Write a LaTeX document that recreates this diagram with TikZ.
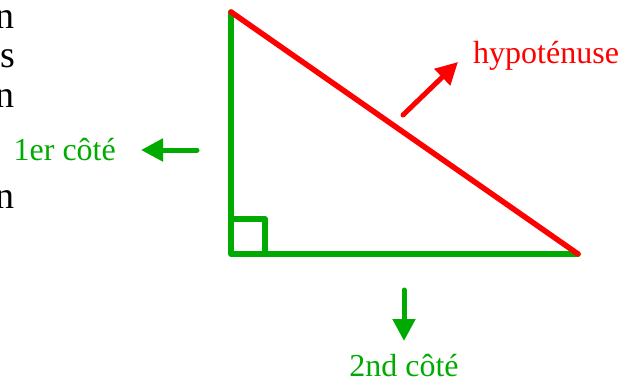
\documentclass[tikz,border=0pt]{standalone}
\usepackage{fontspec}
\setmainfont{Liberation Serif}
\usetikzlibrary{positioning, calc, arrows.meta}
\definecolor{SideColor}{RGB}{0,170,0}
\definecolor{HypColor}{RGB}{255,0,0}
\tikzset{
    side/.style={draw=SideColor, line width=5.5pt, line cap=round, line join=round},
    hyp/.style={draw=HypColor, line width=5.5pt, line cap=round},
    pointer/.style={line width=5pt, line cap=round, -{Triangle[length=22pt, width=22pt]}},
    label/.style={inner sep=0pt, font=\fontsize{32}{36}\selectfont},
    margin/.style={inner sep=0pt, anchor=base east, font=\fontsize{38}{40}\selectfont}
}
\begin{document}
\begin{tikzpicture}[x=1pt, y=-1pt]
\useasboundingbox (0,0) rectangle (637,383);

% Cut-off text at the left margin
\node[margin] (m_one) at (15,28) {n};
\node[margin] (m_two) at (15,67) {s};
\node[margin] (m_three) at (15,107) {n};
\node[margin] (m_four) at (15,208) {n};

% Triangle
\coordinate (t_top) at (231,12);
\coordinate (t_corner) at (231,254);
\coordinate (t_right) at (578,254);

\draw[side] (t_top) -- (t_corner) -- (t_right);
\draw[side] ($(t_corner)+(0,-35)$) -- ++(34,0) -- ++(0,35);
\draw[hyp] (t_top) -- (t_right);

% Arrows and labels
\coordinate (l_tail) at (197,150);
\draw[pointer, draw=SideColor, fill=SideColor] (l_tail) -- ++(-56,0) coordinate (l_tip);
\node[label, text=SideColor, anchor=base east] (l_side) at ($(l_tip)+(-25,10)$) {1er côté};

\coordinate (b_tail) at (404,290);
\draw[pointer, draw=SideColor, fill=SideColor] (b_tail) -- ++(0,51) coordinate (b_tip);
\node[label, text=SideColor, below=13pt of b_tip] (b_side) {2nd côté};

\coordinate (r_tail) at (403,115);
\draw[pointer, draw=HypColor, fill=HypColor] (r_tail) -- (458,62) coordinate (r_tip);
\node[label, text=HypColor, anchor=base west] (r_hyp) at ($(r_tip)+(15,1)$) {hypoténuse};

\end{tikzpicture}
\end{document}
